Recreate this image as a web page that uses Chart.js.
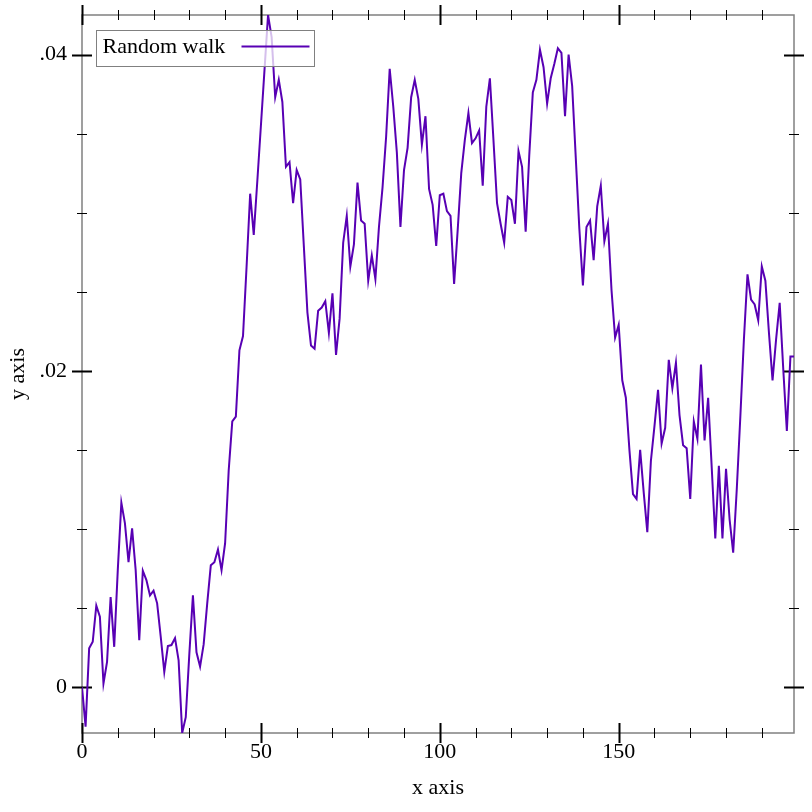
<!DOCTYPE html>
<html>
<head>
<meta charset="utf-8">
<script src="https://cdn.jsdelivr.net/npm/chart.js@4.4.1/dist/chart.umd.min.js"></script>
<style>
  html, body { margin: 0; padding: 0; background: #fff; }
  canvas { display: block; }
</style>
</head>
<body>
<canvas id="chart" width="812" height="812"></canvas>
<script>
// random walk values, one per step (x = step index 0..199)
const walk = [
  0, -0.0025, 0.00245, 0.00287, 0.00515, 0.00445, 0.00023, 0.0016, 0.0057, 0.00255,
  0.0074, 0.01167, 0.01036, 0.0079, 0.01004, 0.0074, 0.00297, 0.00736, 0.00677, 0.0058,
  0.0061, 0.0053, 0.0032, 0.00097, 0.0026, 0.00266, 0.0031, 0.0017, -0.0029, -0.0019,
  0.0021, 0.0058, 0.0022, 0.0013, 0.0027, 0.0053, 0.0077, 0.0079, 0.0087, 0.0074,
  0.0091, 0.0137, 0.0168, 0.0171, 0.0213, 0.0222, 0.0266, 0.0312, 0.0286, 0.0320,
  0.0355, 0.0390, 0.0425, 0.0411, 0.0373, 0.0384, 0.0370, 0.0329, 0.0332, 0.0306,
  0.0327, 0.0321, 0.0279, 0.0237, 0.0216, 0.0214, 0.0238, 0.0240, 0.0244, 0.0224,
  0.0249, 0.0210, 0.0233, 0.0281, 0.0298, 0.0266, 0.0280, 0.0319, 0.0295, 0.0293,
  0.0257, 0.0273, 0.0258, 0.0291, 0.0316, 0.0348, 0.0391, 0.0367, 0.0338, 0.0291,
  0.0327, 0.0341, 0.0373, 0.0384, 0.0372, 0.0343, 0.0361, 0.0315, 0.0305, 0.0279,
  0.0311, 0.0312, 0.0301, 0.0298, 0.0255, 0.0289, 0.0325, 0.0346, 0.0363, 0.0344,
  0.0347, 0.0352, 0.0317, 0.0367, 0.0385, 0.0346, 0.0306, 0.0293, 0.0281, 0.0310,
  0.0308, 0.0293, 0.0339, 0.0329, 0.0288, 0.0336, 0.0376, 0.0384, 0.0403, 0.0392,
  0.0369, 0.0385, 0.0394, 0.0404, 0.0401, 0.0361, 0.0400, 0.0380, 0.0335, 0.0290,
  0.0254, 0.0291, 0.0295, 0.0270, 0.0304, 0.0317, 0.0282, 0.0293, 0.0251, 0.0221,
  0.0229, 0.0194, 0.0183, 0.0150, 0.0122, 0.0119, 0.0150, 0.0123, 0.0098, 0.0143,
  0.0165, 0.0188, 0.0154, 0.0164, 0.0207, 0.0189, 0.0205, 0.0172, 0.0153, 0.0151,
  0.0119, 0.0168, 0.0157, 0.0204, 0.0156, 0.0183, 0.0139, 0.0094, 0.0140, 0.0094,
  0.0138, 0.0106, 0.0085, 0.0125, 0.0171, 0.0220, 0.0261, 0.0245, 0.0242, 0.0232,
  0.0266, 0.0257, 0.0224, 0.0194, 0.0220, 0.0243, 0.0201, 0.0162, 0.0209, 0.0209
];
const seriesName = 'Random walk';
const xTickValues = [0, 50, 100, 150];
const yTickValues = [0, 0.02, 0.04];
const xMinorStep = 10;
const yMinorStep = 0.005;

const lineColor = 'rgb(88, 0, 180)';
const fontFamily = "'Liberation Serif', 'Times New Roman', serif";

// frame + tick marks on all four sides, like the original plot
const frame = {
  id: 'frame',
  beforeDatasetsDraw(chart) {
    const {ctx, chartArea: a, scales: {x, y}} = chart;
    ctx.save();
    ctx.strokeStyle = '#808080';
    ctx.lineWidth = 1.5;
    ctx.strokeRect(a.left, a.top, a.right - a.left, a.bottom - a.top);

    ctx.strokeStyle = '#000';
    const n = Math.floor((x.max - x.min) / xMinorStep);
    for (let k = 0; k <= n; k++) {
      const v = x.min + k * xMinorStep;
      const major = xTickValues.includes(v);
      const len = major ? 10 : 5;
      const px = Math.round(x.getPixelForValue(v)) + 0.5;
      ctx.lineWidth = major ? 2 : 1;
      ctx.beginPath();
      ctx.moveTo(px, a.bottom - len); ctx.lineTo(px, a.bottom + len);
      ctx.moveTo(px, a.top - len); ctx.lineTo(px, a.top + len);
      ctx.stroke();
    }
    const start = Math.ceil(y.min / yMinorStep);
    const end = Math.floor(y.max / yMinorStep);
    for (let k = start; k <= end; k++) {
      const v = +(k * yMinorStep).toFixed(4);
      const major = yTickValues.includes(v);
      const len = major ? 10 : 5;
      const py = Math.round(y.getPixelForValue(v)) + 0.5;
      ctx.lineWidth = major ? 2 : 1;
      ctx.beginPath();
      ctx.moveTo(a.left - len, py); ctx.lineTo(a.left + len, py);
      ctx.moveTo(a.right - len, py); ctx.lineTo(a.right + len, py);
      ctx.stroke();
    }
    ctx.restore();
  }
};

// legend box in the top-left corner of the plot area
const insideLegend = {
  id: 'insideLegend',
  afterDatasetsDraw(chart) {
    const {ctx, chartArea: a} = chart;
    const ds = chart.data.datasets[0];
    const left = a.left + 14.5, top = a.top + 15.5, w = 218, h = 36;
    ctx.save();
    ctx.fillStyle = 'rgba(255,255,255,0.75)';
    ctx.fillRect(left, top, w, h);
    ctx.strokeStyle = '#808080';
    ctx.lineWidth = 1;
    ctx.strokeRect(left, top, w, h);
    ctx.font = '22px ' + fontFamily;
    ctx.fillStyle = '#000';
    ctx.textBaseline = 'alphabetic';
    ctx.fillText(ds.label, left + 6, top + 22.5);
    ctx.strokeStyle = ds.borderColor;
    ctx.lineWidth = 2;
    ctx.beginPath();
    ctx.moveTo(left + 145, top + 16);
    ctx.lineTo(left + 213, top + 16);
    ctx.stroke();
    ctx.restore();
  }
};

Chart.defaults.font.family = fontFamily;
Chart.defaults.font.size = 22;
Chart.defaults.color = '#000';

new Chart(document.getElementById('chart'), {
  type: 'line',
  data: {
    datasets: [{
      label: seriesName,
      data: walk.map((v, i) => ({x: i, y: v})),
      borderColor: lineColor,
      borderWidth: 2,
      pointRadius: 0,
      tension: 0,
      fill: false
    }]
  },
  options: {
    responsive: false,
    animation: false,
    devicePixelRatio: 1,
    layout: { padding: { top: 15, right: 18, left: 0, bottom: 0 } },
    plugins: { legend: { display: false }, tooltip: { enabled: false } },
    scales: {
      x: {
        type: 'linear',
        min: 0,
        max: walk.length - 1,
        grid: { display: false, drawTicks: false },
        border: { display: false },
        afterBuildTicks: s => { s.ticks = xTickValues.map(v => ({value: v})); },
        afterFit: s => { s.height = 79; s.paddingLeft = 0; s.paddingRight = 0; },
        ticks: { padding: 6, maxRotation: 0, autoSkip: false, callback: v => String(v) },
        title: { display: true, text: 'x axis', padding: { top: 0, bottom: 11 } }
      },
      y: {
        type: 'linear',
        min: Math.min(...walk),
        max: Math.max(...walk),
        grid: { display: false, drawTicks: false },
        border: { display: false },
        afterBuildTicks: s => { s.ticks = yTickValues.map(v => ({value: v})); },
        afterFit: s => { s.width = 82; s.paddingTop = 0; s.paddingBottom = 0; },
        ticks: {
          padding: 15,
          autoSkip: false,
          callback: v => v === 0 ? '0' : v.toFixed(2).replace(/^0/, '')
        },
        title: { display: true, text: 'y axis', padding: { top: 5, bottom: 0 } }
      }
    }
  },
  plugins: [frame, insideLegend]
});
</script>
</body>
</html>
